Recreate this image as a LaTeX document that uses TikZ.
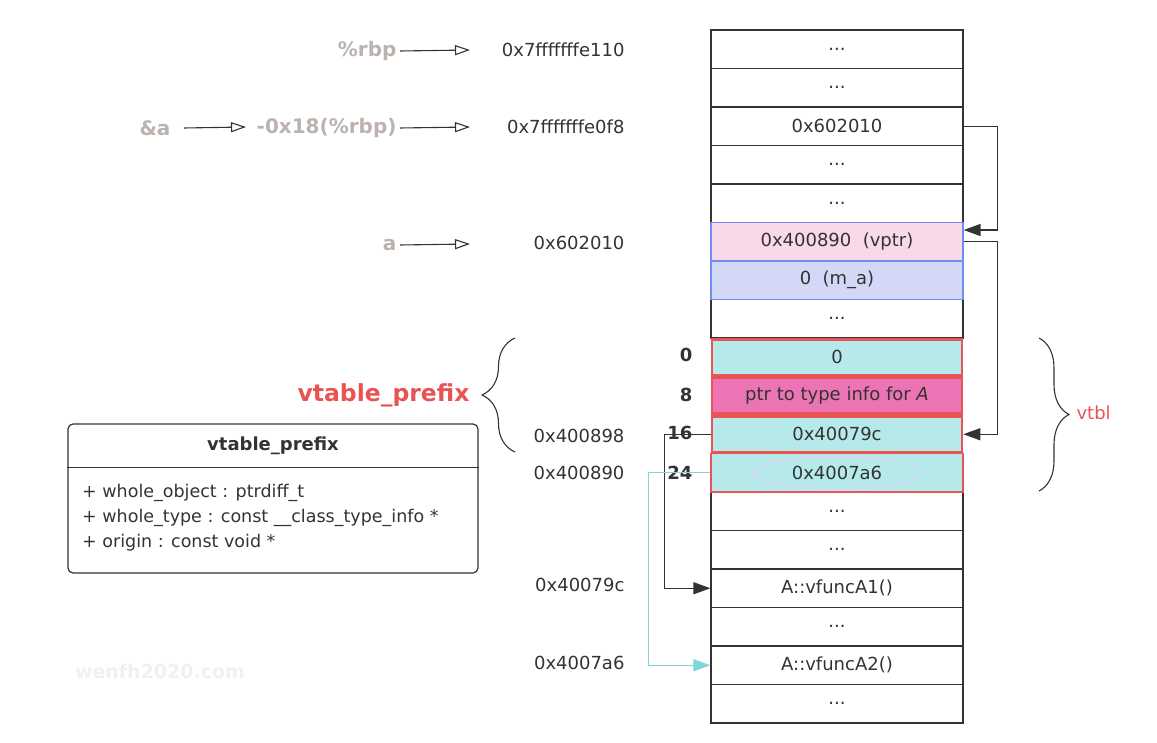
\documentclass[tikz,border=0pt]{standalone}
\usepackage{fontspec}
\setmainfont{DejaVu Sans}
\usetikzlibrary{arrows.meta,decorations.pathreplacing,calc}
\definecolor{ink}{HTML}{333333}
\definecolor{regc}{HTML}{BCB2AE}
\definecolor{redc}{HTML}{E85454}
\definecolor{cyanf}{HTML}{B5E9EA}
\definecolor{pinkf}{HTML}{F9D9E9}
\definecolor{lavf}{HTML}{D3D8F6}
\definecolor{bluel}{HTML}{6E8FF2}
\definecolor{magf}{HTML}{EC74B4}
\definecolor{cyanl}{HTML}{7ED6DA}
\definecolor{ellc}{HTML}{DCD4F2}
\definecolor{wm}{HTML}{F0F0F0}
\begin{document}
\begin{tikzpicture}[x=1pt,y=-1pt,
  every node/.style={text=ink, font=\fontsize{18}{21}\selectfont},
  cell/.style={draw=ink, line width=1.2pt, minimum width=252pt, minimum height=38.5pt, inner sep=0pt},
  bluecell/.style={cell, draw=bluel},
  redcell/.style={cell, draw=redc, line width=2.6pt, minimum width=250pt, minimum height=36pt},
  addr/.style={anchor=east},
  offs/.style={anchor=east, font=\fontsize{18}{21}\selectfont\bfseries},
  reg/.style={text=regc, font=\fontsize{20}{24}\selectfont\bfseries},
  openarr/.style={draw=ink, line width=1.1pt, -{Triangle[open,length=15pt,width=10pt,line width=1.1pt]}},
  conn/.style={draw=ink, line width=1.3pt, -{Triangle[length=17pt,width=12pt]}},
  cconn/.style={draw=cyanl, line width=1.3pt, -{Triangle[length=17pt,width=12pt]}},
  brc/.style={draw=ink, line width=1.1pt, decorate}
]
\useasboundingbox (0,0) rectangle (1157,743);

% memory table
\node[cell] (r1) at (837,49.25) {...};
\node[cell] (r2) at (837,87.75) {...};
\node[cell] (r3) at (837,126.25) {0x602010};
\node[cell] (r4) at (837,164.75) {...};
\node[cell] (r5) at (837,203.25) {...};
\node[cell] (r8) at (837,318.75) {...};
\node[cell] (r13) at (837,511.25) {...};
\node[cell] (r14) at (837,549.75) {...};
\node[cell] (r15) at (837,588.25) {A::vfuncA1()};
\node[cell] (r16) at (837,626.75) {...};
\node[cell] (r17) at (837,665.25) {A::vfuncA2()};
\node[cell] (r18) at (837,703.75) {...};
\node[bluecell, fill=pinkf] (r6) at (837,241.75) {0x400890~~(vptr)};
\node[bluecell, fill=lavf] (r7) at (837,280.25) {0~~(m\_a)};
\node[cell, draw=redc, line width=1.2pt, fill=cyanf] (r12) at (837,472.75) {};
\draw[ellc, line width=1.2pt] (r12.center) ellipse [x radius=84, y radius=16];
\node at (r12.center) {0x4007a6};
\node[redcell, fill=cyanf] (r9) at (837,357.25) {0};
\node[redcell, fill=magf] (r10) at (837,395.75) {ptr to type info for \textit{A}};
\node[redcell, fill=cyanf] (r11) at (837,434.25) {0x40079c};

% addresses
\node[addr] (a1) at (628,50) {0x7fffffffe110};
\node[addr] (a2) at (628,127) {0x7fffffffe0f8};
\node[addr] (a3) at (628,243) {0x602010};
\node[addr] (a4) at (628,436) {0x400898};
\node[addr] (a5) at (628,473) {0x400890};
\node[addr] (a6) at (628,585) {0x40079c};
\node[addr] (a7) at (628,663) {0x4007a6};

% offsets
\node[offs] (o0) at (696,355) {0};
\node[offs] (o8) at (696,395) {8};
\node[offs] (o16) at (696,433) {16};
\node[offs] (o24) at (696,473) {24};

% register labels
\node[reg, anchor=east] (rbp) at (400,51) {\%rbp};
\node[reg] (amp) at (155,128) {\&a};
\node[reg, anchor=east] (off) at (400,128) {-0x18(\%rbp)};
\node[reg, anchor=east] (va) at (400,245) {a};
\coordinate (e1) at (470,50);
\coordinate (e2) at (470,127);
\coordinate (e3) at (470,244);
\coordinate (e0) at (246,127);
\draw[openarr] (rbp.east) -- (e1);
\draw[openarr] (amp.east) ++(10,0) -- (e0);
\draw[openarr] (off.east) -- (e2);
\draw[openarr] (va.east) -- (e3);

% connectors
\draw[conn] (r3.east) -- ++(34,0) |- ([yshift=11.75pt]r6.east);
\draw[conn] (r6.east) -- ++(34,0) |- (r11.east);
\draw[conn] (r11.west) -- ++(-46,0) |- (r15.west);
\draw[cconn] (r12.west) -- ++(-62,0) |- (r17.west);

% braces
\coordinate (lb1) at (515,452);
\coordinate (lb2) at (515,338);
\draw[brc, decoration={brace, amplitude=33pt}] (lb1) -- (lb2);
\node[text=redc, font=\fontsize{23.5}{28}\selectfont\bfseries, anchor=east] (vp) at (473,395) {vtable\_prefix};
\coordinate (rb1) at (1039,338);
\coordinate (rb2) at (1039,491);
\draw[brc, decoration={brace, amplitude=30pt}] (rb1) -- (rb2);
\node[text=redc, anchor=west] (vt) at (1073,413) {vtbl};

% UML box
\node[draw=ink, line width=1.2pt, rounded corners=5pt, minimum width=410pt, minimum height=149pt, inner sep=0pt] (uml) at (273,498.5) {};
\draw[ink, line width=1.2pt] ([yshift=-44pt]uml.north west) -- ([yshift=-44pt]uml.north east);
\node[font=\fontsize{18}{21}\selectfont\bfseries] (title) at (273,446) {vtable\_prefix};
\node[anchor=north west, align=left, inner sep=0pt, font=\fontsize{17.5}{25}\selectfont] (attrs) at (82,484) {+ whole\_object : ptrdiff\_t\\+ whole\_type : const \_\_class\_type\_info *\\+ origin : const void *};

% watermark
\node[text=wm, font=\fontsize{19}{22}\selectfont\bfseries] (wmk) at (160,671) {wenfh2020.com};
\end{tikzpicture}
\end{document}
